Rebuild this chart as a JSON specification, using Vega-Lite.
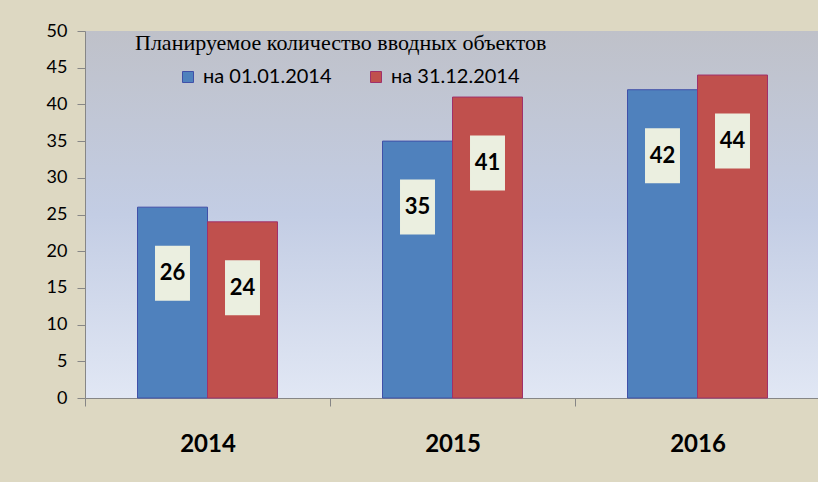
{
  "$schema": "https://vega.github.io/schema/vega-lite/v6.json",
  "width": 735,
  "height": 367,
  "autosize": {"type": "none"},
  "padding": {"left": 85, "top": 31, "right": 0, "bottom": 84},
  "background": "#ddd8c2",
  "title": {
    "text": "Планируемое количество вводных объектов",
    "anchor": "start",
    "frame": "group",
    "dx": 50,
    "offset": -33,
    "font": "Liberation Serif",
    "fontSize": 22,
    "fontWeight": "normal",
    "color": "#000000"
  },
  "data": {
    "values": [
      {"year": "2014", "series": "на 01.01.2014", "value": 26},
      {"year": "2014", "series": "на 31.12.2014", "value": 24},
      {"year": "2015", "series": "на 01.01.2014", "value": 35},
      {"year": "2015", "series": "на 31.12.2014", "value": 41},
      {"year": "2016", "series": "на 01.01.2014", "value": 42},
      {"year": "2016", "series": "на 31.12.2014", "value": 44}
    ]
  },
  "encoding": {
    "x": {
      "field": "year",
      "type": "nominal",
      "scale": {"paddingInner": 0, "paddingOuter": 0},
      "axis": {
        "title": null,
        "labelAngle": 0,
        "labelFontSize": 24,
        "labelFontWeight": "bold",
        "labelFont": "Lato",
        "labelColor": "#000000",
        "tickBand": "extent",
        "tickSize": 8,
        "domainColor": "#868686",
        "tickColor": "#868686",
        "labelPadding": 26
      }
    },
    "xOffset": {
      "field": "series",
      "type": "nominal",
      "scale": {"paddingInner": 0, "paddingOuter": 0.75}
    },
    "y": {
      "field": "value",
      "type": "quantitative",
      "scale": {"domain": [0, 50], "nice": false},
      "axis": {
        "title": null,
        "values": [0, 5, 10, 15, 20, 25, 30, 35, 40, 45, 50],
        "grid": false,
        "domainColor": "#868686",
        "tickColor": "#868686",
        "tickSize": 8,
        "labelFontSize": 18,
        "labelFont": "Lato",
        "labelColor": "#000000",
        "labelPadding": 10,
        "labelFlush": false
      }
    }
  },
  "layer": [
    {
      "mark": {"type": "bar", "strokeWidth": 1},
      "encoding": {
        "fill": {
          "field": "series",
          "type": "nominal",
          "scale": {"range": ["#4f81bd", "#c0504d"]},
          "legend": {
            "orient": "none",
            "legendX": 93,
            "legendY": 36,
            "direction": "horizontal",
            "title": null,
            "symbolType": "square",
            "symbolSize": 121,
            "labelFontSize": 20,
            "labelFont": "Lato",
            "labelColor": "#000000",
            "columnPadding": 34,
            "labelOffset": 5,
            "symbolStrokeWidth": 1
          }
        },
        "stroke": {
          "field": "series",
          "type": "nominal",
          "scale": {"range": ["#4050a8", "#a0306a"]},
          "legend": {
            "orient": "none",
            "legendX": 93,
            "legendY": 36,
            "direction": "horizontal",
            "title": null,
            "symbolType": "square",
            "symbolSize": 121,
            "labelFontSize": 20,
            "labelFont": "Lato",
            "labelColor": "#000000",
            "columnPadding": 34,
            "labelOffset": 5,
            "symbolStrokeWidth": 1
          }
        }
      }
    },
    {
      "mark": {
        "type": "point",
        "shape": "M-0.636,-1L0.636,-1L0.636,1L-0.636,1Z",
        "size": 3025,
        "filled": true,
        "fill": "#ebefe0",
        "opacity": 1,
        "strokeWidth": 0,
        "yOffset": 66
      }
    },
    {
      "mark": {
        "type": "text",
        "dy": 66,
        "baseline": "middle",
        "fontSize": 22,
        "fontWeight": "bold",
        "font": "Lato",
        "color": "#000000"
      },
      "encoding": {"text": {"field": "value", "type": "quantitative"}}
    }
  ],
  "config": {
    "view": {
      "stroke": null,
      "fill": {
        "gradient": "linear",
        "x1": 0, "y1": 0, "x2": 0, "y2": 1,
        "stops": [
          {"offset": 0, "color": "#bfc1c9"},
          {"offset": 0.5, "color": "#c3cde4"},
          {"offset": 1, "color": "#e1e7f4"}
        ]
      }
    }
  }
}
